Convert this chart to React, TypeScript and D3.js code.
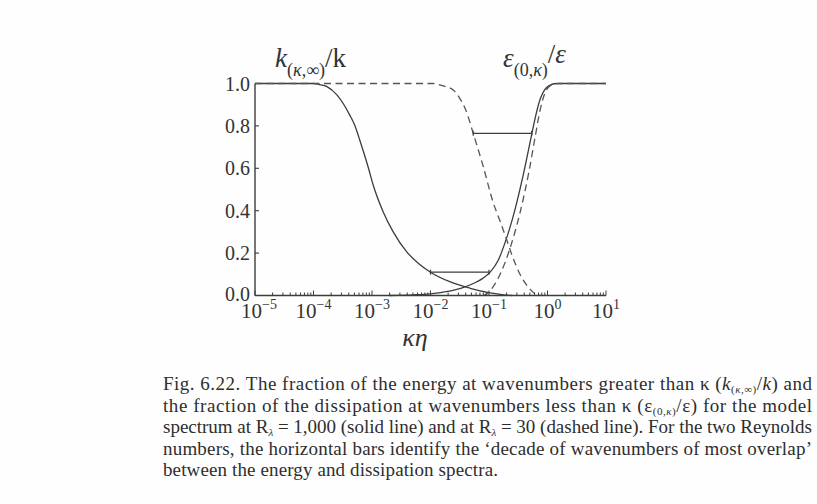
import React from "react";
import * as d3 from "d3";

// log10(κη) positions and values
const kSolidLog = [-5, -4.0, -3.9, -3.77, -3.6, -3.38, -3.29, -3.2, -3.06, -2.98, -2.81, -2.64, -2.41, -2.2, -2.0, -1.67, -1.32, -0.98, -0.75, -0.6];
const kSolidVal = [1, 1, 0.995, 0.985, 0.946, 0.851, 0.8, 0.725, 0.6, 0.521, 0.395, 0.301, 0.207, 0.15, 0.11, 0.065, 0.034, 0.012, 0.003, 0];

const kDashLog = [-5, -1.95, -1.8, -1.61, -1.5, -1.39, -1.27, -1.1, -0.93, -0.81, -0.7, -0.62, -0.47, -0.3, -0.19, -0.1];
const kDashVal = [1, 1, 0.99, 0.969, 0.93, 0.87, 0.765, 0.61, 0.44, 0.35, 0.265, 0.2, 0.1, 0.03, 0.005, 0];

const eSolidLog = [-2.7, -2.3, -2.0, -1.8, -1.6, -1.47, -1.24, -1.1, -0.98, -0.84, -0.73, -0.6, -0.43, -0.33, -0.27, -0.2, -0.12, -0.05, 0.03, 0.15, 1];
const eSolidVal = [0, 0.003, 0.008, 0.015, 0.025, 0.035, 0.06, 0.082, 0.11, 0.167, 0.246, 0.36, 0.55, 0.68, 0.76, 0.85, 0.93, 0.97, 0.99, 1, 1];

const eDashLog = [-1.1, -1.0, -0.92, -0.81, -0.65, -0.47, -0.32, -0.21, -0.13, -0.05, 0.05, 0.2, 1];
const eDashVal = [0, 0.015, 0.045, 0.1, 0.215, 0.39, 0.58, 0.75, 0.87, 0.95, 0.99, 1, 1];

// "decade of most overlap" bars: [startLog, endLog, value]
const barSolid = [-2.0, -1.0, 0.11];
const barDashed = [-1.27, -0.27, 0.765];

const yTicks = [0, 0.2, 0.4, 0.6, 0.8, 1.0];
const xMajorExp = [-5, -4, -3, -2, -1, 0, 1];

const captionLines = [
  "Fig. 6.22. The fraction of the energy at wavenumbers greater than κ",
  "the fraction of the dissipation at wavenumbers less than κ",
  "spectrum at R",
  "numbers, the horizontal bars identify the ‘decade of wavenumbers of most overlap’",
  "between the energy and dissipation spectra.",
];

const INK = "#3c3c3c";
const SERIF = "'Liberation Serif', 'DejaVu Serif', serif";

export default function App() {
  const x = d3.scaleLog().domain([1e-5, 10]).range([255, 606]);
  const y = d3.scaleLinear().domain([0, 1]).range([295.5, 83.5]);

  const line = d3
    .line<[number, number]>()
    .x((d) => x(Math.pow(10, d[0])))
    .y((d) => y(d[1]))
    .curve(d3.curveMonotoneX);

  const zip = (a: number[], b: number[]) => a.map((v, i) => [v, b[i]] as [number, number]);

  const ticks = x.ticks();
  const isMajor = (t: number) => Math.abs(Math.log10(t) - Math.round(Math.log10(t))) < 1e-9;

  const bar = (b: number[], key: string) => {
    const x0 = x(Math.pow(10, b[0]));
    const x1 = x(Math.pow(10, b[1]));
    const yy = y(b[2]);
    return (
      <g key={key} stroke={INK} strokeWidth={1.2}>
        <line x1={x0} x2={x1} y1={yy} y2={yy} />
        <line x1={x0} x2={x0} y1={yy - 2.5} y2={yy + 2.5} />
        <line x1={x1} x2={x1} y1={yy - 2.5} y2={yy + 2.5} />
      </g>
    );
  };

  const capX0 = 163;
  const capW = 649;
  const capY = [390, 411.5, 433, 454.5, 476];

  return (
    <svg
      width={817}
      height={504}
      style={{ position: "absolute", left: 0, top: 0, background: "#ffffff" }}
      fontFamily={SERIF}
    >
      <rect x={0} y={0} width={817} height={504} fill="#fefefe" />

      {/* curves */}
      <path d={line(zip(kSolidLog, kSolidVal)) || ""} fill="none" stroke={INK} strokeWidth={1.3} />
      <path d={line(zip(eSolidLog, eSolidVal)) || ""} fill="none" stroke={INK} strokeWidth={1.3} />
      <path d={line(zip(kDashLog, kDashVal)) || ""} fill="none" stroke="#555" strokeWidth={1.3} strokeDasharray="7,4.5" />
      <path d={line(zip(eDashLog, eDashVal)) || ""} fill="none" stroke="#555" strokeWidth={1.3} strokeDasharray="7,4.5" />

      {bar(barSolid, "bs")}
      {bar(barDashed, "bd")}

      {/* axes */}
      <g stroke={INK} strokeWidth={1.4} fill="none">
        <line x1={x(1e-5)} x2={x(10)} y1={y(0)} y2={y(0)} />
        <line x1={x(1e-5)} x2={x(1e-5)} y1={y(0)} y2={y(1)} />
        {ticks.map((t, i) => (
          <line key={"xt" + i} x1={x(t)} x2={x(t)} y1={y(0)} y2={y(0) - (isMajor(t) ? 5 : 3)} strokeWidth={1} />
        ))}
        {yTicks.filter((t) => t > 0 && t < 1).map((t) => (
          <line key={"yt" + t} x1={x(1e-5)} x2={x(1e-5) + 4} y1={y(t)} y2={y(t)} strokeWidth={1.1} />
        ))}
      </g>

      {/* y labels */}
      <g fill="#333" fontSize={20} textAnchor="end">
        {yTicks.map((t) => (
          <text key={"yl" + t} x={250} y={y(t) + (t === 0 ? 5 : 7)}>
            {t.toFixed(1)}
          </text>
        ))}
      </g>

      {/* x labels */}
      <g fill="#333" textAnchor="middle">
        {xMajorExp.map((e) => (
          <text key={"xl" + e} x={x(Math.pow(10, e)) + (e === -5 ? 4 : 0)} y={318} fontSize={21}>
            10
            <tspan dy={-9} fontSize={14}>
              {e < 0 ? "−" + Math.abs(e) : String(e)}
            </tspan>
          </text>
        ))}
      </g>

      <text x={415} y={346} fontSize={26} fontStyle="italic" textAnchor="middle" fill="#333">
        κη
      </text>

      {/* curve labels */}
      <text x={275} y={67} fill="#333" fontSize={27}>
        <tspan fontStyle="italic">k</tspan>
        <tspan fontSize={18} dy={9}>
          (<tspan fontStyle="italic">κ</tspan>,∞)
        </tspan>
        <tspan dy={-9}>/k</tspan>
      </text>
      <text x={503} y={67} fill="#333" fontSize={27}>
        <tspan fontStyle="italic">ε</tspan>
        <tspan fontSize={18} dy={9}>
          (0,<tspan fontStyle="italic">κ</tspan>)
        </tspan>
        <tspan dy={-13}>/</tspan>
        <tspan fontStyle="italic">ε</tspan>
      </text>

      {/* caption */}
      <g fill="#2e2e2e" fontSize={19}>
        <text x={capX0} y={capY[0]} textLength={capW} lengthAdjust="spacing">
          {captionLines[0]}
          {"  ("}
          <tspan fontStyle="italic">k</tspan>
          <tspan fontSize={11} dy={3}>
            (<tspan fontStyle="italic">κ</tspan>,∞)
          </tspan>
          <tspan dy={-3}>/</tspan>
          <tspan fontStyle="italic">k</tspan>) and
        </text>
        <text x={capX0} y={capY[1]} textLength={capW} lengthAdjust="spacing">
          {captionLines[1]}
          {"  ("}
          <tspan>ε</tspan>
          <tspan fontSize={11} dy={3}>
            (0,<tspan fontStyle="italic">κ</tspan>)
          </tspan>
          <tspan dy={-3}>/ε) for the model</tspan>
        </text>
        <text x={capX0} y={capY[2]} textLength={capW} lengthAdjust="spacing">
          {captionLines[2]}
          <tspan fontSize={11} dy={3} fontStyle="italic">λ</tspan>
          <tspan dy={-3}> = 1,000 (solid line) and at R</tspan>
          <tspan fontSize={11} dy={3} fontStyle="italic">λ</tspan>
          <tspan dy={-3}> = 30 (dashed line). For the two Reynolds</tspan>
        </text>
        <text x={capX0} y={capY[3]} textLength={capW} lengthAdjust="spacing">
          {captionLines[3]}
        </text>
        <text x={capX0} y={capY[4]} textLength={335} lengthAdjust="spacing">
          {captionLines[4]}
        </text>
      </g>
    </svg>
  );
}
